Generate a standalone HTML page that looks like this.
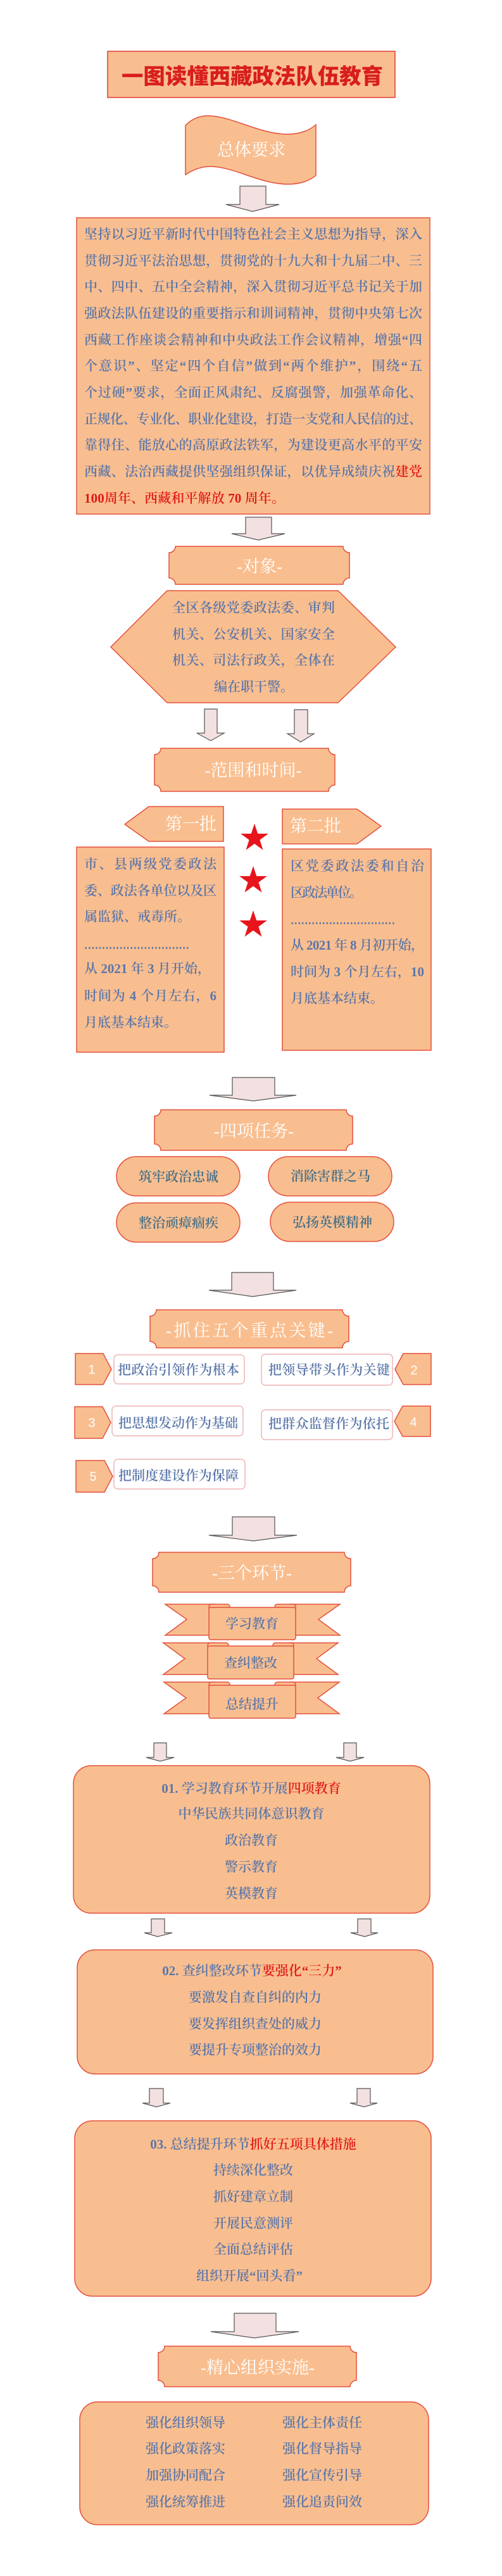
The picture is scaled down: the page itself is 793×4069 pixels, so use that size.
<!DOCTYPE html>
<html><head><meta charset="utf-8"><style>
html,body{margin:0;padding:0;background:#fff;}
svg{display:block;}
.sh{fill:#f9be8f;stroke:#e4503d;stroke-width:1.5;}
.ar{fill:#f3e0e0;stroke:#555;stroke-width:1.2;}
.bt{font-family:"Liberation Serif","Noto Serif CJK SC",serif;font-size:21px;fill:#5a76a9;font-weight:600;}
.wt{font-family:"Liberation Serif","Noto Serif CJK SC",serif;font-size:27px;fill:#fff;}
.red{fill:#e01818;}
.pt{font-family:"Liberation Serif","Noto Serif CJK SC",serif;font-size:21px;fill:#3f6d88;font-weight:600;}
.num{font-family:"Liberation Sans",sans-serif;font-size:20px;fill:#fff;}
</style></head><body>
<svg width="793" height="4069" viewBox="0 0 793 4069" xmlns="http://www.w3.org/2000/svg">
<rect width="793" height="4069" fill="#fff"/>

<!-- Title -->
<rect x="170" y="81" width="454" height="73" fill="#f9be8f" stroke="#e23b36" stroke-width="1.5"/>
<text x="192" y="118" dominant-baseline="central" textLength="413" lengthAdjust="spacingAndGlyphs" font-family="'Noto Sans CJK SC',sans-serif" font-weight="900" font-size="34" fill="#d81e1e">一图读懂西藏政法队伍教育</text>

<!-- Flag -->
<path class="sh" d="M293,198 C305,186 318,182 332,183 C370,185 410,212 455,212 C475,212 490,205 499,197 L499,277 C490,285 475,291 455,291 C410,291 370,263 332,263 C318,263 305,268 293,276 Z"/>
<text class="wt" x="397" y="237" text-anchor="middle" dominant-baseline="central" font-size="28">总体要求</text>

<!-- Arrow 1 -->
<polygon class="ar" points="379,294 420,294 420,323 441,323 399,334 357,323 379,323"/>

<!-- Main text box -->
<rect class="sh" x="121" y="344" width="558" height="468"/>
<g class="bt" dominant-baseline="central">
<text x="133" y="370" textLength="534" lengthAdjust="spacing" dominant-baseline="central">坚持以习近平新时代中国特色社会主义思想为指导，深入</text>
<text x="133" y="412" textLength="534" lengthAdjust="spacing" dominant-baseline="central">贯彻习近平法治思想，贯彻党的十九大和十九届二中、三</text>
<text x="133" y="453" textLength="534" lengthAdjust="spacing" dominant-baseline="central">中、四中、五中全会精神，深入贯彻习近平总书记关于加</text>
<text x="133" y="495" textLength="534" lengthAdjust="spacing" dominant-baseline="central">强政法队伍建设的重要指示和训词精神，贯彻中央第七次</text>
<text x="133" y="537" textLength="534" lengthAdjust="spacing" dominant-baseline="central">西藏工作座谈会精神和中央政法工作会议精神，增强“四</text>
<text x="133" y="578" textLength="534" lengthAdjust="spacing" dominant-baseline="central">个意识”、坚定“四个自信”做到“两个维护”，围绕“五</text>
<text x="133" y="620" textLength="534" lengthAdjust="spacing" dominant-baseline="central">个过硬”要求，全面正风肃纪、反腐强警，加强革命化、</text>
<text x="133" y="662" textLength="534" lengthAdjust="spacing" dominant-baseline="central">正规化、专业化、职业化建设，打造一支党和人民信的过、</text>
<text x="133" y="703" textLength="534" lengthAdjust="spacing" dominant-baseline="central">靠得住、能放心的高原政法铁军，为建设更高水平的平安</text>
<text x="133" y="745" textLength="534" lengthAdjust="spacing" dominant-baseline="central">西藏、法治西藏提供坚强组织保证，以优异成绩庆祝<tspan class="red">建党</tspan></text>
<text x="133" y="787" textLength="317" lengthAdjust="spacing" dominant-baseline="central" class="red">100周年、西藏和平解放 70 周年。</text>
</g>

<!-- Arrow 2 -->
<polygon class="ar" points="388,817 429,817 429,843 450,843 408,853 366,843 388,843"/>

<!-- Banner 对象 -->
<path class="sh" d="M277,863 L542,863 A10,10 0 0 0 552,873 L552,913 A10,10 0 0 0 542,923 L277,923 A10,10 0 0 0 267,913 L267,873 A10,10 0 0 0 277,863 Z"/>
<text class="wt" x="410" y="895" text-anchor="middle" dominant-baseline="central">-对象-</text>

<!-- Hexagon -->
<polygon class="sh" points="175,1022 264,933 534,933 625,1022 534,1110 264,1110"/>
<text class="bt" x="272" y="960" textLength="257" lengthAdjust="spacing" dominant-baseline="central">全区各级党委政法委、审判</text>
<text class="bt" x="272" y="1002" textLength="257" lengthAdjust="spacing" dominant-baseline="central">机关、公安机关、国家安全</text>
<text class="bt" x="272" y="1043" textLength="257" lengthAdjust="spacing" dominant-baseline="central">机关、司法行政关，全体在</text>
<text class="bt" x="338" y="1085" dominant-baseline="central">编在职干警。</text>

<!-- Arrows 3,4 -->
<polygon class="ar" points="323,1120 343,1120 343,1158 354,1158 333,1170 311,1158 323,1158"/>
<polygon class="ar" points="465,1121 486,1121 486,1159 496,1159 475,1172 454,1159 465,1159"/>

<!-- Banner 范围和时间 -->
<path class="sh" d="M254,1182 L519,1182 A10,10 0 0 0 529,1192 L529,1240 A10,10 0 0 0 519,1250 L254,1250 A10,10 0 0 0 244,1240 L244,1192 A10,10 0 0 0 254,1182 Z"/>
<text class="wt" x="400" y="1217" text-anchor="middle" dominant-baseline="central">-范围和时间-</text>

<!-- 第一批 / 第二批 -->
<polygon class="sh" points="197,1302 235,1274 353,1274 353,1329 235,1329"/>
<text class="wt" x="342" y="1302" text-anchor="end" dominant-baseline="central" font-size="24">第一批</text>
<polygon class="sh" points="446,1278 564,1278 602,1305 564,1333 446,1333"/>
<text class="wt" x="458" y="1305" dominant-baseline="central" font-size="24">第二批</text>

<!-- Stars -->
<g fill="#e8141b">
<polygon transform="translate(402,1324)" points="0,-23 5.2,-7.1 21.9,-7.1 8.4,2.7 13.5,18.6 0,8.8 -13.5,18.6 -8.4,2.7 -21.9,-7.1 -5.2,-7.1"/>
<polygon transform="translate(400,1391)" points="0,-23 5.2,-7.1 21.9,-7.1 8.4,2.7 13.5,18.6 0,8.8 -13.5,18.6 -8.4,2.7 -21.9,-7.1 -5.2,-7.1"/>
<polygon transform="translate(400,1461)" points="0,-23 5.2,-7.1 21.9,-7.1 8.4,2.7 13.5,18.6 0,8.8 -13.5,18.6 -8.4,2.7 -21.9,-7.1 -5.2,-7.1"/>
</g>

<!-- Left batch box -->
<rect class="sh" x="121" y="1338" width="233" height="324"/>
<text class="bt" x="133" y="1365" textLength="209" lengthAdjust="spacing" dominant-baseline="central">市、县两级党委政法</text>
<text class="bt" x="133" y="1407" textLength="209" lengthAdjust="spacing" dominant-baseline="central">委、政法各单位以及区</text>
<text class="bt" x="133" y="1448" dominant-baseline="central">属监狱、戒毒所。</text>
<text class="bt" x="133" y="1492" textLength="166" lengthAdjust="spacingAndGlyphs" dominant-baseline="central" font-size="14" font-weight="400">…………………………</text>
<text class="bt" x="133" y="1530" textLength="200" lengthAdjust="spacing" dominant-baseline="central">从 2021 年 3 月开始，</text>
<text class="bt" x="133" y="1573" textLength="209" lengthAdjust="spacing" dominant-baseline="central">时间为 4 个月左右，6</text>
<text class="bt" x="133" y="1615" dominant-baseline="central">月底基本结束。</text>

<!-- Right batch box -->
<rect class="sh" x="446" y="1341" width="235" height="318"/>
<text class="bt" x="459" y="1368" textLength="211" lengthAdjust="spacing" dominant-baseline="central">区党委政法委和自治</text>
<text class="bt" x="459" y="1410" textLength="114" lengthAdjust="spacing" dominant-baseline="central">区政法单位。</text>
<text class="bt" x="459" y="1453" textLength="165" lengthAdjust="spacingAndGlyphs" dominant-baseline="central" font-size="14" font-weight="400">…………………………</text>
<text class="bt" x="459" y="1493" textLength="211" lengthAdjust="spacing" dominant-baseline="central">从 2021 年 8 月初开始，</text>
<text class="bt" x="459" y="1535" textLength="211" lengthAdjust="spacing" dominant-baseline="central">时间为 3 个月左右，10</text>
<text class="bt" x="459" y="1577" dominant-baseline="central">月底基本结束。</text>

<!-- Arrow 5 -->
<polygon class="ar" points="367,1702 434,1702 434,1730 468,1730 400,1739 331,1730 367,1730"/>

<!-- Banner 四项任务 -->
<path class="sh" d="M254,1753 L547,1753 A10,10 0 0 0 557,1763 L557,1807 A10,10 0 0 0 547,1817 L254,1817 A10,10 0 0 0 244,1807 L244,1763 A10,10 0 0 0 254,1753 Z"/>
<text class="wt" x="401" y="1787" text-anchor="middle" dominant-baseline="central">-四项任务-</text>

<!-- Pills -->
<rect class="sh" x="184" y="1827" width="195" height="62" rx="31"/>
<rect class="sh" x="424" y="1827" width="195" height="62" rx="31"/>
<rect class="sh" x="184" y="1900" width="195" height="62" rx="31"/>
<rect class="sh" x="427" y="1899" width="195" height="62" rx="31"/>
<text class="pt" x="282" y="1859" text-anchor="middle" dominant-baseline="central">筑牢政治忠诚</text>
<text class="pt" x="522" y="1858" text-anchor="middle" dominant-baseline="central">消除害群之马</text>
<text class="pt" x="282" y="1932" text-anchor="middle" dominant-baseline="central">整治顽瘴痼疾</text>
<text class="pt" x="525" y="1931" text-anchor="middle" dominant-baseline="central">弘扬英模精神</text>

<!-- Arrow 6 -->
<polygon class="ar" points="366,2010 432,2010 432,2038 468,2038 399,2048 330,2038 366,2038"/>

<!-- Banner 抓住五个重点关键 -->
<path class="sh" d="M247,2069 L541,2069 A10,10 0 0 0 551,2079 L551,2119 A10,10 0 0 0 541,2129 L247,2129 A10,10 0 0 0 237,2119 L237,2079 A10,10 0 0 0 247,2069 Z"/>
<text class="wt" x="262" y="2102" textLength="264" lengthAdjust="spacing" dominant-baseline="central" font-size="28">-抓住五个重点关键-</text>

<!-- Numbered items -->
<g class="sh">
<polygon points="119,2138 163,2138 176,2163 163,2187 119,2187"/>
<polygon points="637,2138 681,2138 681,2187 637,2187 624,2163"/>
<polygon points="118,2222 162,2222 175,2247 162,2272 118,2272"/>
<polygon points="636,2221 680,2221 680,2269 636,2269 623,2245"/>
<polygon points="120,2307 165,2307 178,2332 165,2357 120,2357"/>
</g>
<g fill="#fff" stroke="#e9a3a3" stroke-width="1.2">
<rect x="180" y="2140" width="206" height="46" rx="6"/>
<rect x="413" y="2139" width="207" height="49" rx="6"/>
<rect x="177" y="2221" width="207" height="47" rx="6"/>
<rect x="413" y="2227" width="207" height="47" rx="6"/>
<rect x="180" y="2305" width="207" height="47" rx="6"/>
</g>
<text class="num" x="145" y="2164" text-anchor="middle" dominant-baseline="central">1</text>
<text class="num" x="654" y="2165" text-anchor="middle" dominant-baseline="central">2</text>
<text class="num" x="145" y="2248" text-anchor="middle" dominant-baseline="central">3</text>
<text class="num" x="653" y="2247" text-anchor="middle" dominant-baseline="central">4</text>
<text class="num" x="147" y="2333" text-anchor="middle" dominant-baseline="central">5</text>
<g class="bt" font-weight="400">
<text x="186" y="2164" textLength="192" lengthAdjust="spacing" dominant-baseline="central">把政治引领作为根本</text>
<text x="424" y="2164" textLength="192" lengthAdjust="spacing" dominant-baseline="central">把领导带头作为关键</text>
<text x="187" y="2248" textLength="189" lengthAdjust="spacing" dominant-baseline="central">把思想发动作为基础</text>
<text x="424" y="2249" textLength="191" lengthAdjust="spacing" dominant-baseline="central">把群众监督作为依托</text>
<text x="187" y="2331" textLength="190" lengthAdjust="spacing" dominant-baseline="central">把制度建设作为保障</text>
</g>

<!-- Arrow 7 -->
<polygon class="ar" points="367,2396 434,2396 434,2425 469,2425 400,2434 330,2425 367,2425"/>

<!-- Banner 三个环节 -->
<path class="sh" d="M251,2452 L544,2452 A10,10 0 0 0 554,2462 L554,2505 A10,10 0 0 0 544,2515 L251,2515 A10,10 0 0 0 241,2505 L241,2462 A10,10 0 0 0 251,2452 Z"/>
<text class="wt" x="398" y="2485" text-anchor="middle" dominant-baseline="central">-三个环节-</text>

<!-- Scrolls -->
<g class="sh">
<polygon points="261,2534 340,2534 340,2583 261,2583 295,2558"/>
<polygon points="537,2534 457,2534 457,2583 537,2583 503,2558"/>
<rect x="330" y="2534" width="33" height="9" rx="4"/>
<rect x="434" y="2534" width="33" height="9" rx="4"/>
<rect x="330" y="2539" width="137" height="51" rx="3"/>

<polygon points="258,2595 338,2595 338,2645 258,2645 292,2620"/>
<polygon points="534,2595 454,2595 454,2645 534,2645 500,2620"/>
<rect x="328" y="2595" width="33" height="9" rx="4"/>
<rect x="431" y="2595" width="33" height="9" rx="4"/>
<rect x="328" y="2600" width="136" height="52" rx="3"/>

<polygon points="259,2657 340,2657 340,2707 259,2707 294,2682"/>
<polygon points="536,2657 457,2657 457,2707 536,2707 502,2682"/>
<rect x="330" y="2657" width="33" height="9" rx="4"/>
<rect x="434" y="2657" width="33" height="9" rx="4"/>
<rect x="330" y="2662" width="137" height="52" rx="3"/>
</g>
<text class="bt" x="398" y="2565" text-anchor="middle" dominant-baseline="central">学习教育</text>
<text class="bt" x="396" y="2627" text-anchor="middle" dominant-baseline="central">查纠整改</text>
<text class="bt" x="398" y="2692" text-anchor="middle" dominant-baseline="central">总结提升</text>

<!-- Arrows 8 -->
<polygon class="ar" points="243,2753 263,2753 263,2776 275,2776 253,2782 231,2776 243,2776"/>
<polygon class="ar" points="543,2753 563,2753 563,2776 575,2776 553,2782 531,2776 543,2776"/>

<!-- Box 01 -->
<rect class="sh" x="116" y="2789" width="563" height="233" rx="28"/>
<text class="bt" x="397" y="2825" text-anchor="middle" dominant-baseline="central">01. 学习教育环节开展<tspan class="red">四项教育</tspan></text>
<text class="bt" x="397" y="2865" text-anchor="middle" dominant-baseline="central">中华民族共同体意识教育</text>
<text class="bt" x="397" y="2907" text-anchor="middle" dominant-baseline="central">政治教育</text>
<text class="bt" x="397" y="2949" text-anchor="middle" dominant-baseline="central">警示教育</text>
<text class="bt" x="397" y="2991" text-anchor="middle" dominant-baseline="central">英模教育</text>

<!-- Arrows 9 -->
<polygon class="ar" points="239,3031 260,3031 260,3053 272,3053 249,3059 228,3053 239,3053"/>
<polygon class="ar" points="565,3031 586,3031 586,3053 597,3053 576,3059 554,3053 565,3053"/>

<!-- Box 02 -->
<rect class="sh" x="122" y="3080" width="562" height="196" rx="28"/>
<text class="bt" x="398" y="3113" text-anchor="middle" dominant-baseline="central">02. 查纠整改环节<tspan class="red">要强化“三力”</tspan></text>
<text class="bt" x="403" y="3155" text-anchor="middle" dominant-baseline="central">要激发自查自纠的内力</text>
<text class="bt" x="403" y="3197" text-anchor="middle" dominant-baseline="central">要发挥组织查处的威力</text>
<text class="bt" x="403" y="3238" text-anchor="middle" dominant-baseline="central">要提升专项整治的效力</text>

<!-- Arrows 10 -->
<polygon class="ar" points="236,3299 258,3299 258,3322 269,3322 247,3328 225,3322 236,3322"/>
<polygon class="ar" points="564,3299 585,3299 585,3322 596,3322 575,3328 553,3322 564,3322"/>

<!-- Box 03 -->
<rect class="sh" x="118" y="3350" width="563" height="277" rx="28"/>
<text class="bt" x="400" y="3387" text-anchor="middle" dominant-baseline="central">03. 总结提升环节<tspan class="red">抓好五项具体措施</tspan></text>
<text class="bt" x="400" y="3428" text-anchor="middle" dominant-baseline="central">持续深化整改</text>
<text class="bt" x="400" y="3470" text-anchor="middle" dominant-baseline="central">抓好建章立制</text>
<text class="bt" x="400" y="3512" text-anchor="middle" dominant-baseline="central">开展民意测评</text>
<text class="bt" x="400" y="3553" text-anchor="middle" dominant-baseline="central">全面总结评估</text>
<text class="bt" x="394" y="3595" text-anchor="middle" dominant-baseline="central">组织开展“回头看”</text>

<!-- Arrow 11 -->
<polygon class="ar" points="370,3654 436,3654 436,3683 472,3683 402,3693 333,3683 370,3683"/>

<!-- Banner 精心组织实施 -->
<path class="sh" d="M260,3706 L553,3706 A10,10 0 0 0 563,3716 L563,3760 A10,10 0 0 0 553,3770 L260,3770 A10,10 0 0 0 250,3760 L250,3716 A10,10 0 0 0 260,3706 Z"/>
<text class="wt" x="407" y="3740" text-anchor="middle" dominant-baseline="central">-精心组织实施-</text>

<!-- Box 04 -->
<rect class="sh" x="126" y="3794" width="551" height="194" rx="28"/>
<g class="bt">
<text x="230" y="3827" dominant-baseline="central">强化组织领导</text>
<text x="230" y="3868" dominant-baseline="central">强化政策落实</text>
<text x="230" y="3910" dominant-baseline="central">加强协同配合</text>
<text x="230" y="3952" dominant-baseline="central">强化统筹推进</text>
<text x="446" y="3827" dominant-baseline="central">强化主体责任</text>
<text x="446" y="3868" dominant-baseline="central">强化督导指导</text>
<text x="446" y="3910" dominant-baseline="central">强化宣传引导</text>
<text x="446" y="3952" dominant-baseline="central">强化追责问效</text>
</g>
</svg>
</body></html>
